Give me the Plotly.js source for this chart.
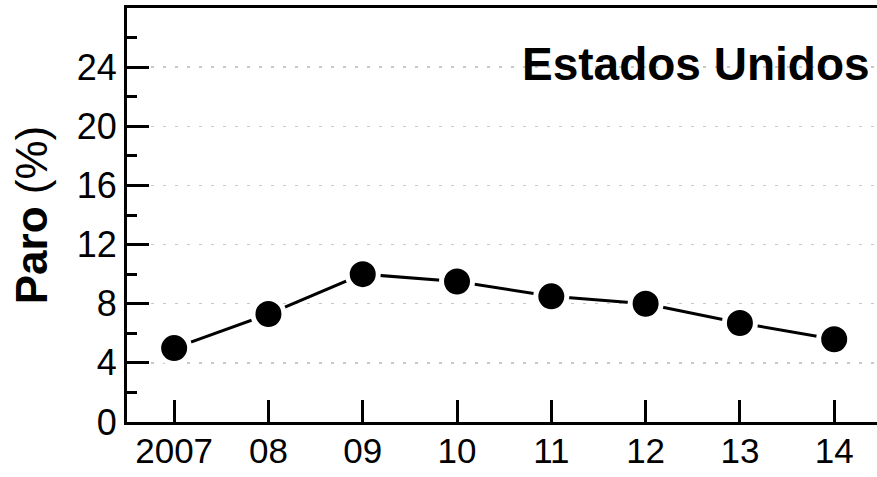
<!DOCTYPE html>
<html>
<head>
<meta charset="utf-8">
<script src="https://cdn.plot.ly/plotly-3.0.1.min.js"></script>
<style>
  html, body { margin: 0; padding: 0; background: #ffffff; }
  #chart { width: 877px; height: 477px; }
</style>
</head>
<body>
<div id="chart"></div>
<script>
// Data
const years = [2007, 2008, 2009, 2010, 2011, 2012, 2013, 2014];
const yearLabels = ["2007", "08", "09", "10", "11", "12", "13", "14"];
const paro = [5.0, 7.3, 10.0, 9.5, 8.5, 8.0, 6.7, 5.6];
const yTickVals = [0, 4, 8, 12, 16, 20, 24];
const yTickText = ["0", "4", "8", "12", "16", "20", "24"];
const countryLabel = "Estados Unidos";
const yTitle = "<b>Paro</b> (%)";

const FONT = "Liberation Sans, Arial, sans-serif";

const trace = {
  x: years,
  y: paro,
  type: "scatter",
  mode: "lines+markers",
  line: { color: "#000000", width: 3 },
  marker: { color: "#000000", size: 31, line: { color: "#ffffff", width: 5 } },
  cliponaxis: false,
  hoverinfo: "skip"
};

const layout = {
  width: 877,
  height: 477,
  margin: { l: 127, r: 0, t: 8, b: 55 },
  paper_bgcolor: "#ffffff",
  plot_bgcolor: "#ffffff",
  showlegend: false,
  font: { family: FONT, color: "#000000", size: 36 },
  xaxis: {
    range: [2006.5, 2014.454],
    tickmode: "array",
    tickvals: years,
    ticktext: yearLabels,
    ticks: "inside",
    ticklen: 22,
    tickwidth: 3,
    tickcolor: "#000000",
    showline: true,
    linewidth: 3,
    linecolor: "#000000",
    mirror: true,
    showgrid: false,
    zeroline: false,
    tickfont: { family: FONT, size: 35, color: "#000000" },
    ticklabelstandoff: -4
  },
  yaxis: {
    range: [0, 28],
    tickmode: "array",
    tickvals: yTickVals,
    ticktext: yTickText,
    ticks: "inside",
    ticklen: 22,
    tickwidth: 3,
    tickcolor: "#000000",
    minor: { dtick: 2, tick0: 0, ticks: "inside", ticklen: 10, tickwidth: 3, tickcolor: "#000000", showgrid: false },
    showline: true,
    linewidth: 3,
    linecolor: "#000000",
    mirror: false,
    showgrid: true,
    gridcolor: "#c8c8c8",
    gridwidth: 1.5,
    griddash: "3px,9px",
    zeroline: false,
    tickfont: { family: FONT, size: 36, color: "#000000" },
    ticklabelstandoff: 0,
    title: { text: yTitle, font: { family: FONT, size: 44, color: "#000000" }, standoff: 16 }
  },
  annotations: [{
    text: "<b>" + countryLabel + "</b>",
    xref: "paper", yref: "y",
    x: 0.9933, y: 24.2,
    xanchor: "right", yanchor: "middle",
    showarrow: false,
    font: { family: FONT, size: 46, color: "#000000" }
  }]
};

Plotly.newPlot("chart", [trace], layout, { staticPlot: true, displayModeBar: false });
</script>
</body>
</html>
